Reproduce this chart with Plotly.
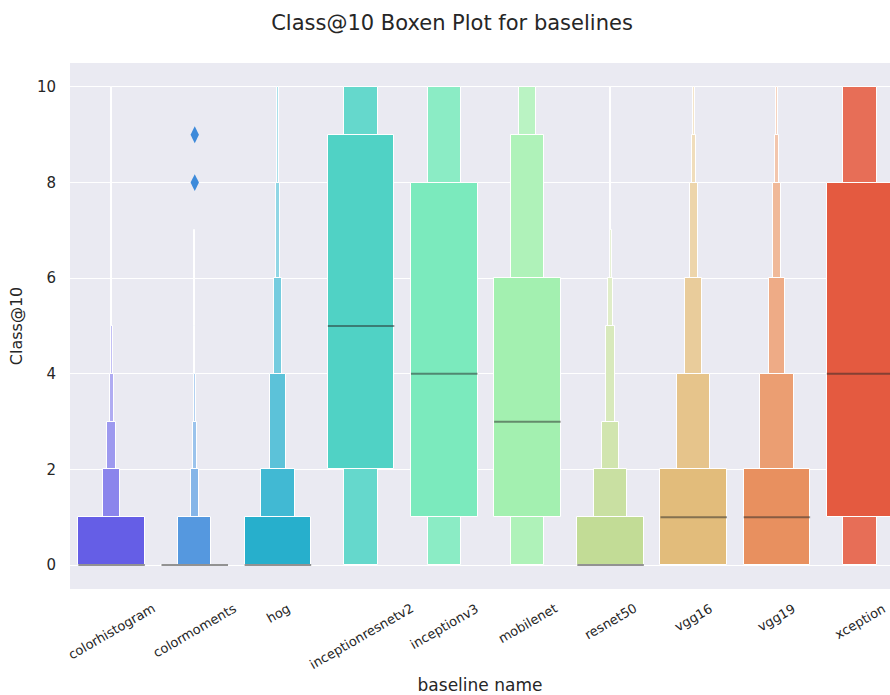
import colorsys
import math

import plotly.graph_objects as go

# ---- data -----------------------------------------------------------------
baselines = ["colorhistogram", "colormoments", "hog", "inceptionresnetv2",
             "inceptionv3", "mobilenet", "resnet50", "vgg16", "vgg19", "xception"]

medians = [0, 0, 0, 5, 4, 3, 0, 1, 1, 4]

# letter-value box ends, one row per depth: depth 0 is the IQR box,
# each further depth halves the tail fraction
lower_ends = [
    [0, 0, 0, 2, 1, 1, 0, 0, 0, 1],
    [0, 0, 0, 0, 0, 0, 0, 0, 0, 0],
    [0, 0, 0, 0, 0, 0, 0, 0, 0, 0],
    [0, 0, 0, 0, 0, 0, 0, 0, 0, 0],
    [0, 0, 0, 0, 0, 0, 0, 0, 0, 0],
    [0, 0, 0, 0, 0, 0, 0, 0, 0, 0],
    [0, 0, 0, 0, 0, 0, 0, 0, 0, 0],
    [0, 0, 0, 0, 0, 0, 0, 0, 0, 0],
]
upper_ends = [
    [1, 0, 1, 9, 8, 6, 1, 2, 2, 8],
    [1, 1, 2, 10, 10, 9, 2, 4, 4, 10],
    [2, 1, 4, 10, 10, 10, 3, 6, 6, 10],
    [3, 2, 6, 10, 10, 10, 5, 8, 8, 10],
    [4, 3, 8, 10, 10, 10, 6, 9, 9, 10],
    [5, 4, 10, 10, 10, 10, 7, 10, 10, 10],
    [10, 5, 10, 10, 10, 10, 10, 10, 10, 10],
    [10, 7, 10, 10, 10, 10, 10, 10, 10, 10],
]

outlier_baselines = ["colormoments", "colormoments"]
outlier_values = [8, 9]

y_ticks = [0, 2, 4, 6, 8, 10]

# ---- colours: matplotlib "rainbow", desaturated, fading toward white ------
def rainbow(t):
    r = min(1.0, abs(2 * t - 0.5))
    g = math.sin(math.pi * t)
    b = math.cos(math.pi * t / 2)
    return r, g, b


def desaturate(rgb, prop=0.75):
    h, l, s = colorsys.rgb_to_hls(*rgb)
    return colorsys.hls_to_rgb(h, l, s * prop)


n_cat = len(baselines)
n_depth = len(upper_ends)
base_colors = [desaturate(rainbow((i + 1) / (n_cat + 1))) for i in range(n_cat)]


def to_css(rgb):
    return "rgb({},{},{})".format(*[int(round(255 * c)) for c in rgb])


def depth_color(rgb, depth):
    f = 0.85 * depth / (n_depth - 1)
    return to_css(tuple(c + f * (1 - c) for c in rgb))


positions = list(range(n_cat))
box_width = 0.8

fig = go.Figure()

# outermost boxes first so the wider inner ones sit on top
for depth in range(n_depth - 1, -1, -1):
    lo = lower_ends[depth]
    hi = upper_ends[depth]
    fig.add_trace(go.Bar(
        x=positions,
        base=lo,
        y=[h - l for l, h in zip(lo, hi)],
        width=box_width * 0.5 ** depth,
        marker=dict(color=[depth_color(c, depth) for c in base_colors],
                    line=dict(color="white", width=1)),
        showlegend=False,
        hoverinfo="skip",
    ))

# median lines
mx, my = [], []
for p, m in zip(positions, medians):
    mx += [p - box_width / 2, p + box_width / 2, None]
    my += [m, m, None]
fig.add_trace(go.Scatter(x=mx, y=my, mode="lines",
                         line=dict(color="rgba(38,38,38,0.5)", width=2),
                         showlegend=False, hoverinfo="skip"))

# outliers
ox = [baselines.index(b) for b in outlier_baselines]
fig.add_trace(go.Scatter(
    x=ox, y=outlier_values, mode="markers",
    marker=dict(symbol="diamond-tall", size=12,
                color=[to_css(base_colors[i]) for i in ox]),
    showlegend=False, hoverinfo="skip"))

# rotated category labels, centred under each box
for p, name in zip(positions, baselines):
    fig.add_annotation(x=p, xref="x", y=-0.017, yref="paper",
                       text=name, textangle=-30, showarrow=False,
                       xanchor="center", yanchor="top",
                       font=dict(size=13, color="#262626"))

font = "DejaVu Sans"
fig.update_layout(
    width=890, height=695,
    margin=dict(l=70, r=0, t=63, b=106),
    paper_bgcolor="white",
    plot_bgcolor="#eaeaf2",
    barmode="overlay",
    bargap=0,
    font=dict(family=font, color="#262626"),
    title=dict(text="Class@10 Boxen Plot for baselines",
               x=452 / 890, xanchor="center", xref="container",
               y=1 - 23 / 695, yanchor="middle", yref="container",
               font=dict(size=21, color="#262626")),
    xaxis=dict(range=[-0.5, 9.36], showgrid=False, zeroline=False,
               tickvals=positions, showticklabels=False, ticks="",
               title=dict(text="baseline name", standoff=90,
                          font=dict(size=17, color="#262626"))),
    yaxis=dict(range=[-0.5, 10.5], tickvals=y_ticks,
               showgrid=True, gridcolor="white", gridwidth=1,
               zeroline=False, ticks="", ticklabelstandoff=13,
               tickfont=dict(size=15, color="#262626"),
               title=dict(text="Class@10", standoff=10,
                          font=dict(size=16, color="#262626"))),
)

fig.write_html("out.html")
